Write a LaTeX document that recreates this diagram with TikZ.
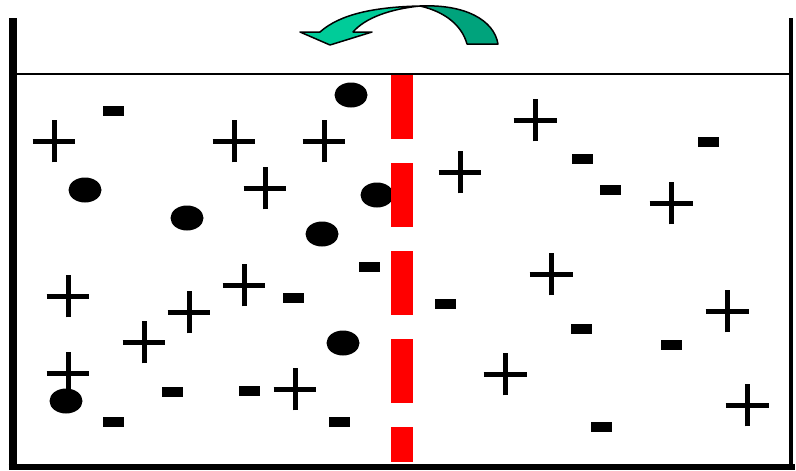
\documentclass[tikz,border=0pt]{standalone}
\usetikzlibrary{shapes.geometric, shapes.misc}

\definecolor{flipfront}{RGB}{0,204,153}
\definecolor{flipback}{RGB}{0,163,124}

\tikzset{
    cation/.style={cross out, draw, rotate=45, line width=5pt, minimum size=30.4pt, inner sep=0pt, outer sep=0pt},
    anion/.style={rectangle, fill, minimum width=21pt, minimum height=10pt, inner sep=0pt},
    solute/.style={ellipse, fill, minimum width=33pt, minimum height=25pt, inner sep=0pt},
    wall/.style={line width=#1, black},
}

\begin{document}
\begin{tikzpicture}[x=1pt, y=-1pt]
\useasboundingbox (0,0) rectangle (796,471);

% tank
\draw[wall=8pt] (12.5,18) -- (12.5,470);
\draw[wall=3.5pt] (791,18) -- (791,470);
\draw[wall=6pt] (8.5,467) -- (794.5,467);
\draw[wall=2pt] (12,74) -- (791,74);

% particles
\foreach \px/\py [count=\i] in {113/111, 582/159, 610/190, 708/142, 369/267, 293/298,
    445/304, 581/329, 671/345, 172/392, 249/391, 113/422, 339/422, 601/427}
    \node[anion] (minus-\i) at (\px,\py) {};

\foreach \px/\py [count=\i] in {351/95, 85/190, 187/218, 377/195, 322/234, 343/343, 66/401}
    \node[solute] (dot-\i) at (\px,\py) {};

\foreach \px/\py [count=\i] in {54/141, 234/141, 324/141, 265/188, 535/120, 460/172,
    671/203, 68/296, 244/285, 189/312, 144/342, 68/373, 295/389, 551/274, 727/311,
    505/374, 747/405}
    \node[cation] (plus-\i) at (\px,\py) {};

% membrane
\draw[red, line width=22pt, dash pattern=on 64pt off 24pt] (402,75) -- (402,462);

% flip arrow
\draw[line width=1.5pt, fill=flipback, line join=round]
    (420,6) .. controls (465,4) and (494,20) .. (498,44) -- (467,44)
    .. controls (462,26) and (446,12) .. (420,6) -- cycle;
\draw[line width=1.5pt, fill=flipfront, line join=round]
    (320,32) .. controls (340,14) and (375,7) .. (420,6)
    .. controls (390,9) and (365,18) .. (353,32) -- (372,32) -- (330,45) -- (300,32) -- cycle;

\end{tikzpicture}
\end{document}
